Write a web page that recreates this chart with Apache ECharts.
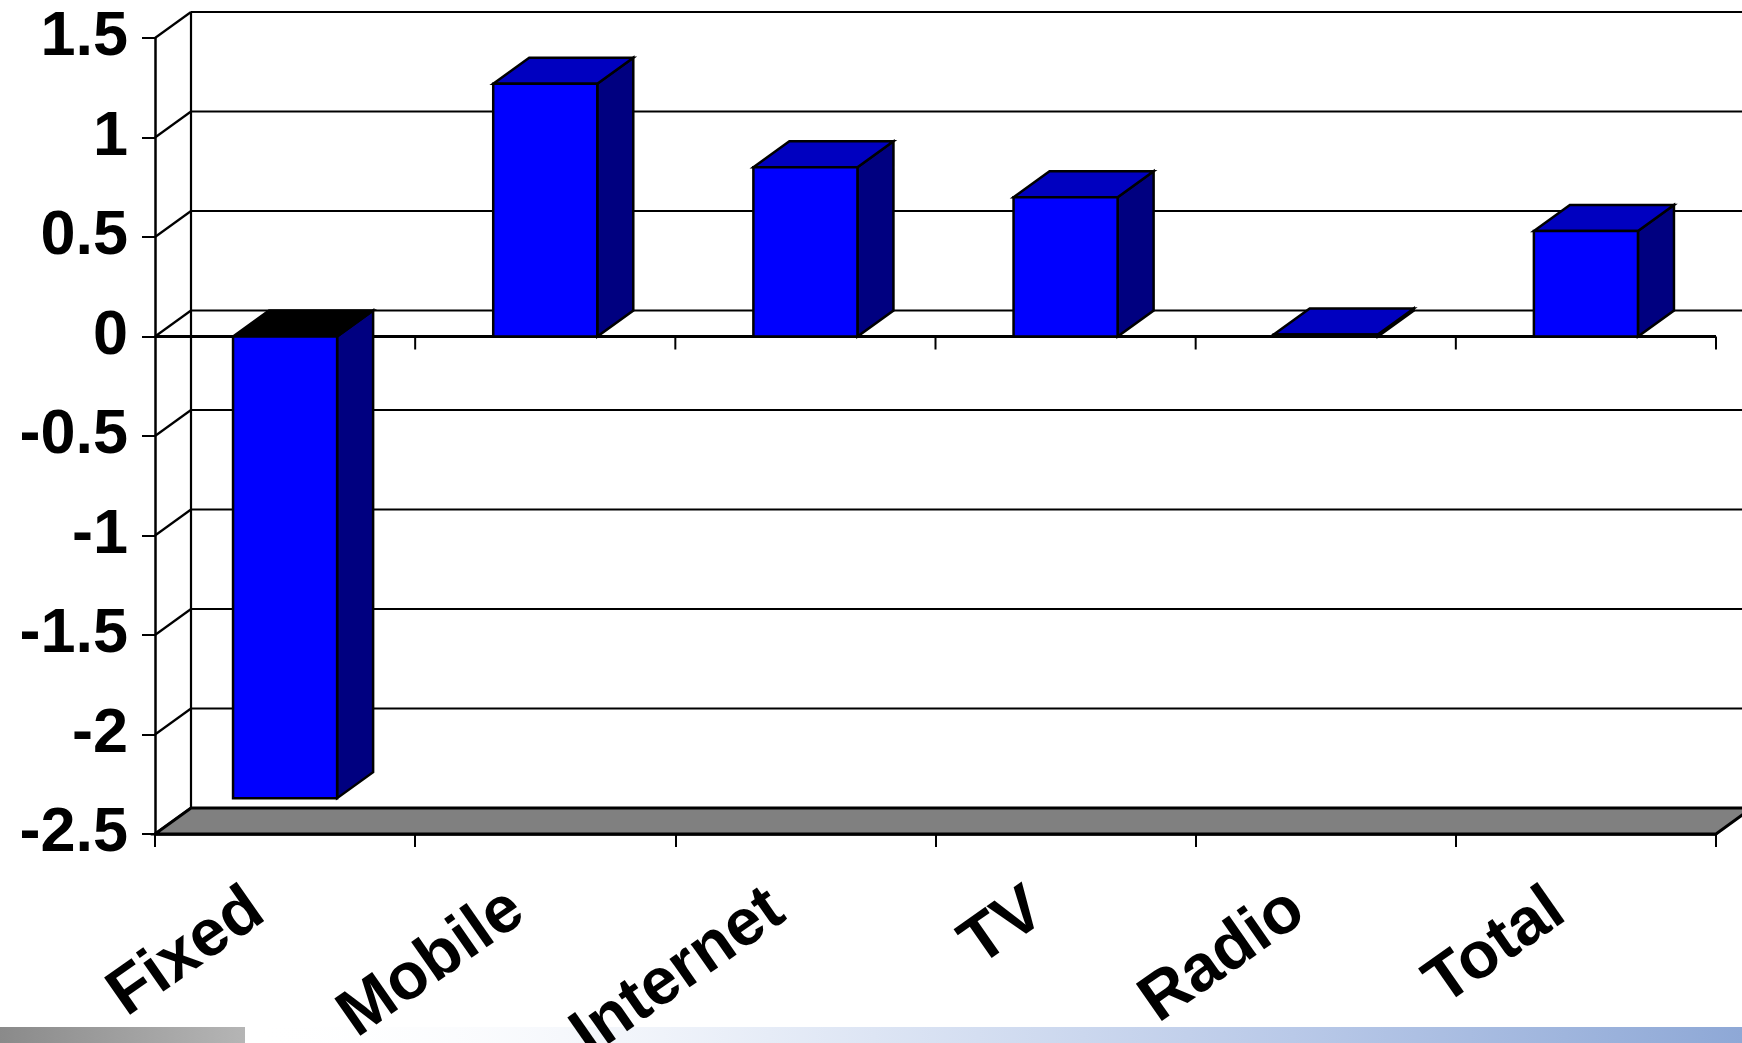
<!DOCTYPE html>
<html>
<head>
<meta charset="utf-8">
<script src="https://cdn.jsdelivr.net/npm/echarts@6/dist/echarts.min.js"></script>
<style>
  html, body { margin: 0; padding: 0; background: #ffffff; }
  #chart { width: 1742px; height: 1043px; }
</style>
</head>
<body>
<div id="chart"></div>
<script>
// Annual change by service segment
const categories = ['Fixed', 'Mobile', 'Internet', 'TV', 'Radio', 'Total'];
const values = [-2.32, 1.27, 0.85, 0.70, 0.01, 0.53];
const yTickValues = [-2.5, -2, -1.5, -1, -0.5, 0, 0.5, 1, 1.5];

// Oblique projection used for the 3D look (pixels per unit of depth)
const DEPTH_X = 36;
const DEPTH_Y = -26;
const FONT = '"Liberation Sans", Arial, sans-serif';

const chart = echarts.init(document.getElementById('chart'), null, { renderer: 'canvas' });

// Walls, floor, gridlines and the zero baseline
function renderFrame(params, api) {
  const band = api.size([1, 0])[0];
  const left = api.coord([0, 0])[0] - band / 2;
  const right = left + categories.length * band;
  const yMin = api.coord([0, yTickValues[0]])[1];
  const yMax = api.coord([0, yTickValues[yTickValues.length - 1]])[1];
  const y0 = api.coord([0, 0])[1];
  const lineStyle = { stroke: '#000', lineWidth: 2.2 };
  const children = [];

  yTickValues.forEach(function (v) {
    const y = api.coord([0, v])[1];
    children.push({
      type: 'line',
      shape: { x1: left + DEPTH_X, y1: y + DEPTH_Y, x2: right + DEPTH_X + 40, y2: y + DEPTH_Y },
      style: lineStyle
    });
    children.push({
      type: 'line',
      shape: { x1: left, y1: y, x2: left + DEPTH_X, y2: y + DEPTH_Y },
      style: lineStyle
    });
  });

  // back wall left edge
  children.push({
    type: 'line',
    shape: { x1: left + DEPTH_X, y1: yMax + DEPTH_Y, x2: left + DEPTH_X, y2: yMin + DEPTH_Y },
    style: lineStyle
  });

  // floor
  children.push({
    type: 'polygon',
    shape: {
      points: [
        [left, yMin], [left + DEPTH_X, yMin + DEPTH_Y],
        [right + DEPTH_X, yMin + DEPTH_Y], [right, yMin]
      ]
    },
    style: { fill: '#808080', stroke: '#000', lineWidth: 3, lineJoin: 'miter' }
  });

  // front zero baseline with category ticks
  children.push({
    type: 'line',
    shape: { x1: left, y1: y0, x2: right, y2: y0 },
    style: { stroke: '#000', lineWidth: 3 }
  });
  for (let i = 1; i <= categories.length; i++) {
    const x = left + i * band;
    children.push({
      type: 'line',
      shape: { x1: x, y1: y0, x2: x, y2: y0 + 13 },
      style: { stroke: '#000', lineWidth: 2 }
    });
  }
  return { type: 'group', children: children };
}

// One 3D column per category
function renderBar(params, api) {
  const idx = api.value(0);
  const v = api.value(1);
  const band = api.size([1, 0])[0];
  const base = api.coord([idx, 0]);
  const tip = api.coord([idx, v]);
  const w = band * 0.4;
  const x0 = base[0] - w / 2;
  const x1 = base[0] + w / 2;
  const yTop = Math.min(base[1], tip[1]);
  const yBot = Math.max(base[1], tip[1]);
  const edge = { stroke: '#000', lineWidth: 2.5, lineJoin: 'miter' };
  return {
    type: 'group',
    children: [
      {
        type: 'polygon',
        shape: { points: [[x1, yTop], [x1 + DEPTH_X, yTop + DEPTH_Y], [x1 + DEPTH_X, yBot + DEPTH_Y], [x1, yBot]] },
        style: Object.assign({ fill: '#000080' }, edge)
      },
      {
        type: 'polygon',
        shape: { points: [[x0, yTop], [x0 + DEPTH_X, yTop + DEPTH_Y], [x1 + DEPTH_X, yTop + DEPTH_Y], [x1, yTop]] },
        style: Object.assign({ fill: v < 0 ? '#000000' : '#0000C0' }, edge)
      },
      {
        type: 'rect',
        shape: { x: x0, y: yTop, width: w, height: Math.max(yBot - yTop, 0.5) },
        style: Object.assign({ fill: '#0000FF' }, edge)
      }
    ]
  };
}

const option = {
  animation: false,
  backgroundColor: '#ffffff',
  grid: { left: 155, right: 26, top: 38, bottom: 209, containLabel: false, outerBoundsMode: 'none' },
  xAxis: {
    type: 'category',
    data: categories,
    boundaryGap: true,
    z: 10,
    axisLine: { show: true, onZero: false, lineStyle: { color: '#000', width: 2.5 } },
    axisTick: { show: true, interval: 0, length: 13, lineStyle: { color: '#000', width: 2 } },
    axisLabel: {
      interval: 0,
      rotate: 35,
      margin: 50,
      padding: [0, 34, 0, 0],
      hideOverlap: false,
      overflow: 'none',
      color: '#000',
      fontFamily: FONT,
      fontWeight: 'bold',
      fontSize: 66
    },
    splitLine: { show: false }
  },
  yAxis: {
    type: 'value',
    min: -2.5,
    max: 1.5,
    interval: 0.5,
    axisLine: { show: true, onZero: false, lineStyle: { color: '#000', width: 2.5 } },
    axisTick: { show: true, length: 13, lineStyle: { color: '#000', width: 2 } },
    axisLabel: {
      margin: 27,
      color: '#000',
      fontFamily: FONT,
      fontWeight: 'bold',
      fontSize: 63,
      formatter: function (v) { return String(v); }
    },
    splitLine: { show: false }
  },
  graphic: {
    z: -10,
    elements: [
      {
        type: 'rect',
        z: -10,
        shape: { x: 0, y: 1027, width: 245, height: 16 },
        style: {
          fill: new echarts.graphic.LinearGradient(0, 0, 1, 0, [
            { offset: 0, color: '#8a8a8a' },
            { offset: 1, color: '#b5b5b5' }
          ])
        }
      },
      {
        type: 'rect',
        z: -10,
        shape: { x: 245, y: 1027, width: 1497, height: 16 },
        style: {
          fill: new echarts.graphic.LinearGradient(0, 0, 1, 0, [
            { offset: 0, color: 'rgba(255,255,255,0)' },
            { offset: 0.35, color: '#e6ecf7' },
            { offset: 0.7, color: '#b9c9e8' },
            { offset: 1, color: '#8ea8d6' }
          ])
        }
      }
    ]
  },
  series: [
    {
      type: 'custom',
      name: 'frame',
      renderItem: renderFrame,
      data: [[0, 0]],
      clip: false,
      silent: true,
      z: 1
    },
    {
      type: 'custom',
      name: 'change',
      renderItem: renderBar,
      data: values.map(function (v, i) { return [i, v]; }),
      encode: { x: 0, y: 1 },
      clip: false,
      z: 3
    }
  ]
};

chart.setOption(option);
</script>
</body>
</html>
